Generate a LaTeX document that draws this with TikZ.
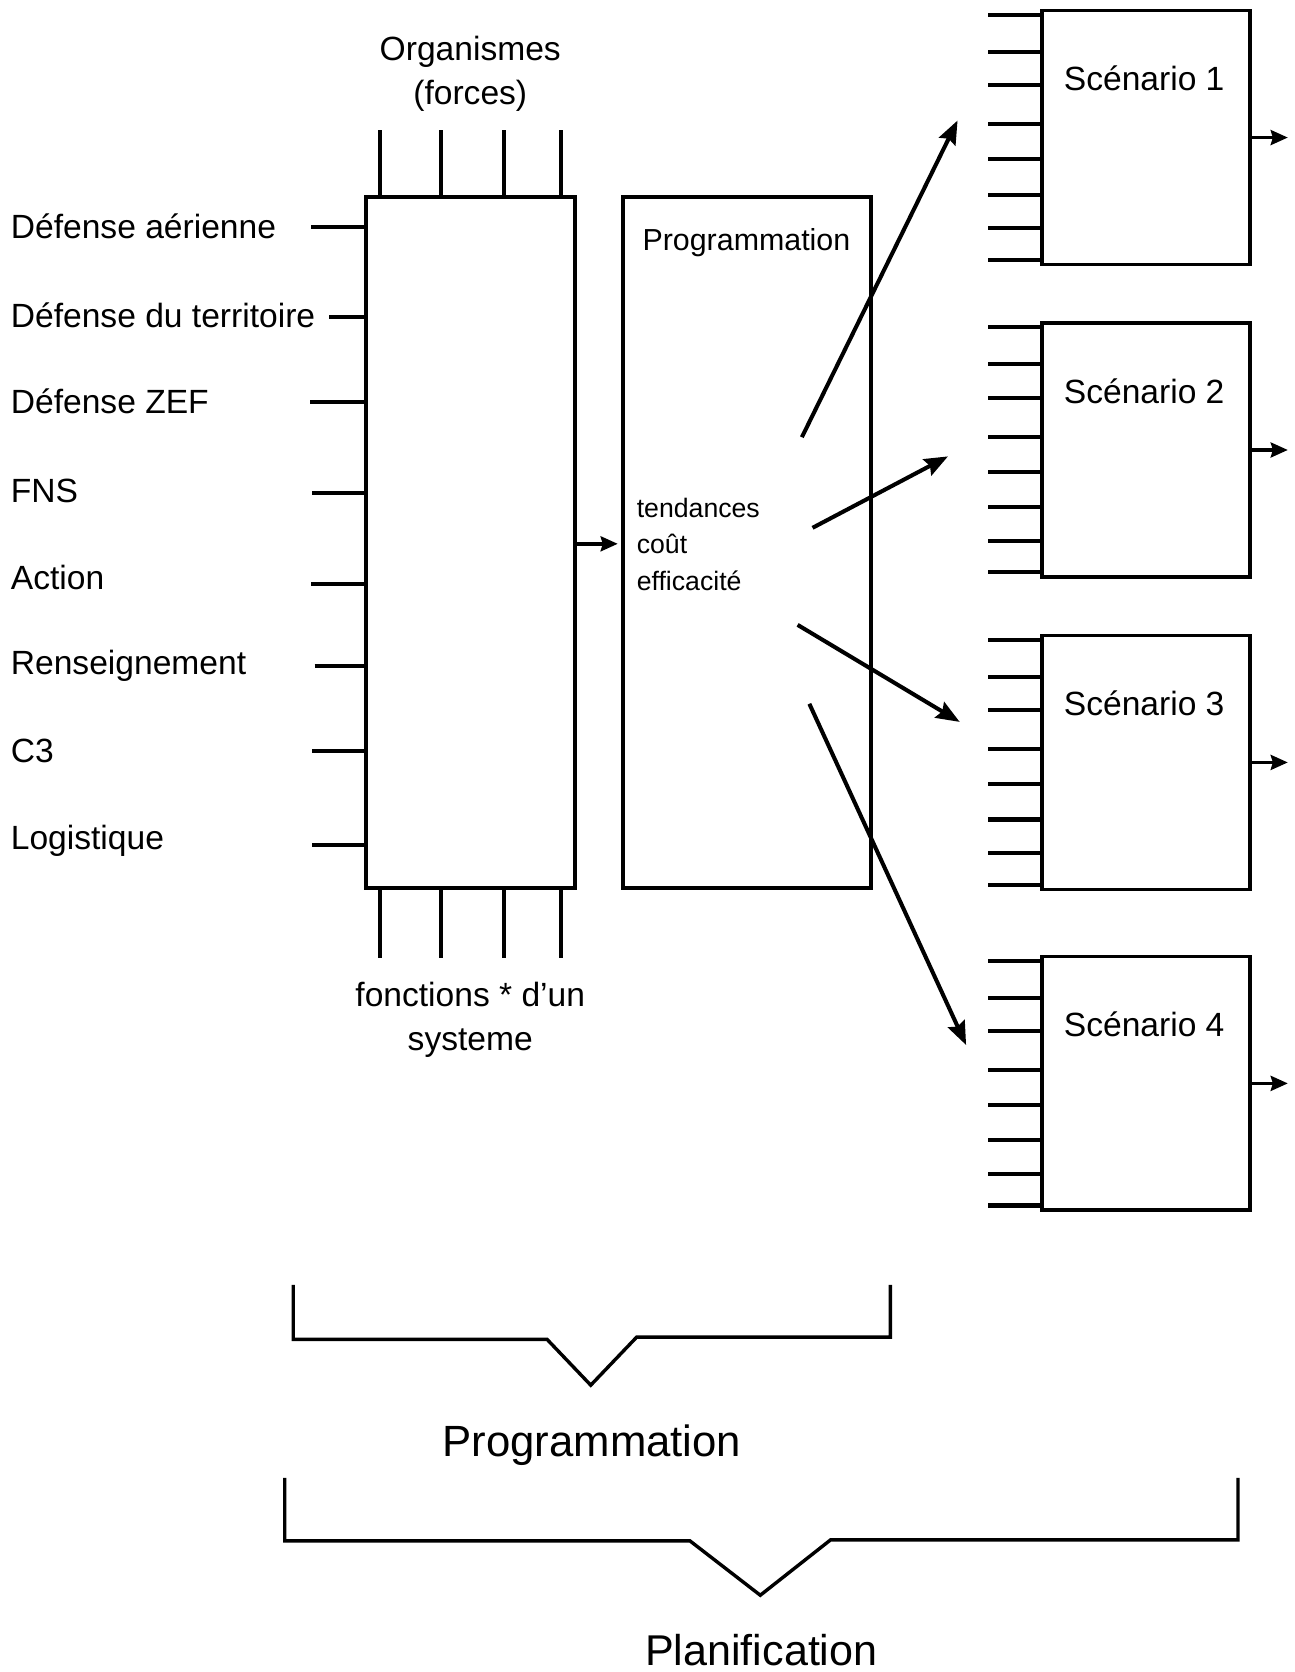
\documentclass[tikz,border=0pt]{standalone}
\usepackage{fontspec}
\setmainfont{Liberation Sans}
\usetikzlibrary{arrows.meta}
\begin{document}
\begin{tikzpicture}[x=1pt,y=-1pt,
  lbl/.style={anchor=base west, inner sep=0pt, font=\fontsize{31.5}{38}\selectfont},
  clbl/.style={anchor=base, inner sep=0pt, font=\fontsize{31.5}{38}\selectfont},
  smalllbl/.style={anchor=base west, inner sep=0pt, font=\fontsize{25}{30}\selectfont},
  biglbl/.style={anchor=base, inner sep=0pt, font=\fontsize{41}{48}\selectfont},
  bigbox/.style={draw, line width=3.4pt, inner sep=0pt, minimum height=648pt},
  sbox/.style={draw, line width=3.4pt, inner sep=0pt, minimum width=195pt, minimum height=238pt},
  stub/.style={line width=3.8pt},
  arr/.style={line width=3.8pt, -{Stealth[length=22pt,width=17pt,inset=3pt]}},
  outarr/.style={line width=3.2pt, -{Stealth[length=16pt,width=14pt,inset=2pt]}},
  brace/.style={line width=3.2pt, line join=miter}
]
\useasboundingbox (0,0) rectangle (1214,1568);

% main box
\node[bigbox, minimum width=196pt] (main) at (441,509) {};
% programmation box
\node[bigbox, minimum width=233pt] (prog) at (700.5,509) {};

% top labels and stubs
\node[clbl] (org1) at (441,57) {Organismes};
\node[clbl] (org2) at (441,98) {(forces)};
\foreach \x [count=\k] in {356,414,473,526} {
  \coordinate (top\k) at (\x,122);
  \draw[stub] (top\k) -- (top\k |- main.north);
  \coordinate (bot\k) at (\x,898);
  \draw[stub] (bot\k |- main.south) -- (bot\k);
}
\node[clbl] (fon1) at (441,944) {fonctions * d’un};
\node[clbl] (fon2) at (441,985) {systeme};

% left labels and stubs
\foreach \t/\ty/\lx/\ly [count=\k] in {
  Défense aérienne/213/292/213,
  Défense du territoire/296/309/297,
  Défense ZEF/377/291/377,
  FNS/460/293/462,
  Action/542/292/548,
  Renseignement/622/295/625,
  C3/704/293/704,
  Logistique/786/293/792} {
  \node[lbl] (lab\k) at (10,\ty+11) {\t};
  \coordinate (lin\k) at (\lx,\ly);
  \draw[stub] (lin\k) -- (lin\k -| main.west);
}

% arrow main -> prog
\coordinate (mid) at (539,510);
\draw[outarr, shorten >=3pt] (mid -| main.east) -- (mid -| prog.west);

% text in programmation box
\node[anchor=base, inner sep=0pt, font=\fontsize{28.5}{34}\selectfont] (progt) at (700,235) {Programmation};
\node[smalllbl] (tend) at (597,485) {tendances};
\node[smalllbl] (cout) at (597,519) {coût};
\node[smalllbl] (effi) at (597,554) {efficacité};

% scenarios
\foreach \n/\t in {1/10, 2/303, 3/596, 4/897} {
  \node[sbox] (s\n) at (1074.5,\t+119) {};
  \node[clbl] (st\n) at (1073,\t+75) {Scénario \n};
  \foreach \o [count=\k] in {4,38.5,70,106.5,139.5,172.5,204,233.5} {
    \coordinate (sIn\n x\k) at (927,\t+\o);
    \draw[stub] (sIn\n x\k) -- (sIn\n x\k -| s\n.west);
  }
  \path (s\n.east) ++(34,0) coordinate (sOut\n);
  \draw[outarr] (s\n.east) -- (sOut\n);
}

% diagonal arrows from programmation to scenarios
\coordinate (a1s) at (752,410); \coordinate (a1e) at (898,113);
\coordinate (a2s) at (762,495); \coordinate (a2e) at (889,428);
\coordinate (a3s) at (748,586); \coordinate (a3e) at (900,677);
\coordinate (a4s) at (759,660); \coordinate (a4e) at (906,980);
\draw[arr] (a1s) -- (a1e);
\draw[arr] (a2s) -- (a2e);
\draw[arr] (a3s) -- (a3e);
\draw[arr] (a4s) -- (a4e);

% brackets
\draw[brace] (275,1205) -- (275,1256) -- (513,1256) -- (554,1299) -- (597,1254) -- (835,1254) -- (835,1205);
\node[biglbl] (progb) at (555,1366) {Programmation};
\draw[brace] (267,1386) -- (267,1445) -- (647,1445) -- (713,1496) -- (779,1444) -- (1161,1444) -- (1161,1386);
\node[biglbl, font=\fontsize{40.4}{48}\selectfont] (plan) at (714,1562) {Planification};
\end{tikzpicture}
\end{document}
